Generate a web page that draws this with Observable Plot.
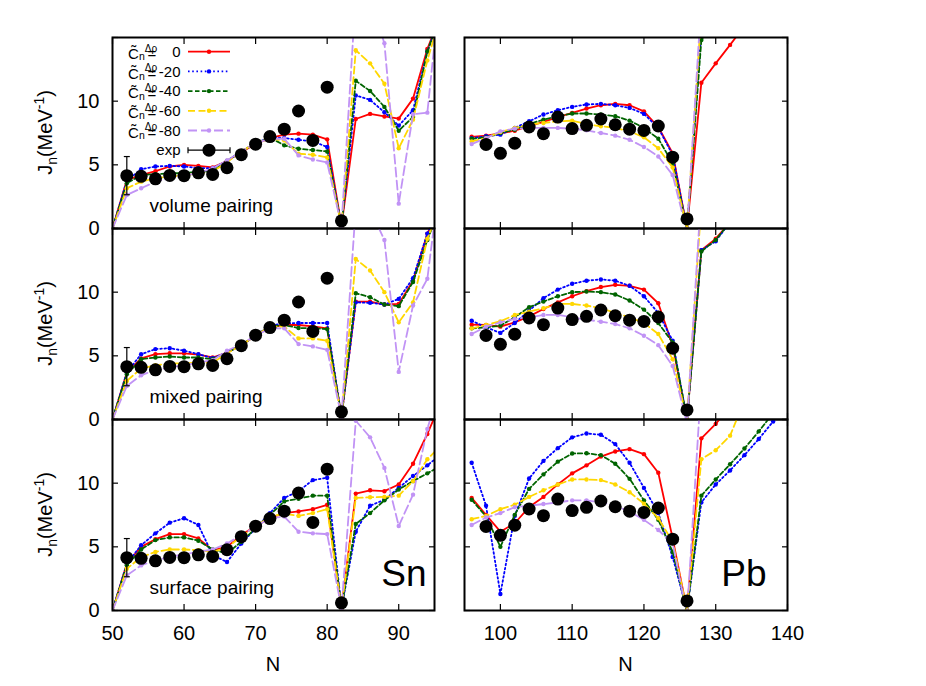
<!DOCTYPE html>
<html><head><meta charset="utf-8">
<script src="https://cdn.jsdelivr.net/npm/d3@7"></script>
<script src="https://cdn.jsdelivr.net/npm/@observablehq/plot@0.6"></script>
<style>
body{margin:0;background:#fff;}
#chart{position:relative;width:926px;height:686px;background:#fff;font-family:"Liberation Sans",Arial,sans-serif;}
#chart svg{position:absolute;left:0;top:0;}
</style></head><body><div id="chart"></div>
<script>
// ---------- data ----------
const seriesLabels = ["0", "-20", "-40", "-60", "-80"];
const pairingLabels = ["volume pairing", "mixed pairing", "surface pairing"];
const elementLabels = ["Sn", "Pb"];
const snTicks = [50, 60, 70, 80, 90];
const pbTicks = [100, 110, 120, 130, 140];
const yTicks = [0, 5, 10, 15];
const yTickLabels = [0, 5, 10];

const snN = [50,52,54,56,58,60,62,64,66,68,70,72,74,76,78,80,82,84,86,88,90,92,94,96];
const pbN = [96,98,100,102,104,106,108,110,112,114,116,118,120,122,124,126,128,130,132,134,136,138,140];

const snExpN = [52,54,56,58,60,62,64,66,68,70,72,74,76,78,80,82];
const snExpJ = [4.15,4.1,3.9,4.17,4.15,4.37,4.25,4.77,5.8,6.62,7.22,7.8,9.23,6.92,11.1,0.6];
const snErrN = [52];
const snErrLo = [2.65];
const snErrHi = [5.65];
const pbExpN = [98,100,102,104,106,108,110,112,114,116,118,120,122,124,126];
const pbExpJ = [6.6,5.9,6.7,7.97,7.45,8.75,7.85,8.1,8.6,8.15,7.8,7.7,8.05,5.6,0.75];

// Sn, volume pairing
const snVol0   = [0,3.8,4.2,4.5,4.87,5.0,4.92,4.8,5.3,6.0,6.65,7.1,7.37,7.45,7.37,7.0,0.2,8.6,9.0,8.8,8.63,10.2,14.1,17];
const snVol20  = [0,3.75,4.66,4.87,4.92,4.87,4.74,4.74,5.3,6.05,6.7,7.16,7.1,6.97,6.84,6.4,0.2,10.45,10.1,9.13,8.08,9.29,13.9,17];
const snVol40  = [0,3.55,4.2,4.26,4.34,4.34,4.47,4.5,5.3,6.05,6.7,7.15,6.53,6.26,6.16,6.05,0.2,11.6,10.8,9.55,7.68,8.76,13.9,17];
const snVol60  = [0,3.16,3.68,3.95,4.08,4.16,4.34,4.47,5.2,6.05,6.7,7.05,6.92,5.87,5.79,5.58,0.2,14.0,12.97,11.37,6.3,8.55,13.2,17];
const snVol80  = [0,2.63,3.16,3.68,3.95,4.16,4.34,4.74,5.34,6.05,6.7,7.05,7.05,5.74,5.42,5.18,0.2,18.4,18,14.55,1.95,8.97,9.1,20];
// Sn, mixed pairing
const snMix0   = [0,3.7,4.8,5.13,5.2,5.2,5.1,4.87,5.26,5.84,6.58,7.24,7.42,7.42,7.32,7.16,0.2,9.26,9.26,9.03,9.08,10.9,14.6,17];
const snMix20  = [0,3.7,5.13,5.53,5.6,5.4,5.13,4.82,5.26,5.84,6.58,7.37,7.55,7.58,7.58,7.58,0.2,9.2,9.16,9.03,9.47,11.1,14.6,17];
const snMix40  = [0,3.55,4.74,4.87,4.95,4.87,4.87,4.74,5.26,5.84,6.58,7.3,7.42,7.18,7.18,7.1,0.2,9.92,9.6,9.03,8.9,10.8,14.1,17];
const snMix60  = [0,3.03,4.0,4.26,4.4,4.4,4.47,4.47,5.2,5.84,6.58,7.3,7.29,6.37,6.37,6.18,0.2,12.6,11.7,10.0,7.63,9.2,14.2,17];
const snMix80  = [0,2.63,3.47,3.9,4.08,4.26,4.47,4.66,5.4,5.92,6.58,7.16,7.16,5.92,5.74,5.47,0.2,16.7,16.5,14.1,3.74,8.95,11.05,20];
// Sn, surface pairing
const snSurf0  = [0,3.68,5.0,5.6,6.0,6.0,5.66,4.74,5.0,5.92,6.64,7.25,7.65,7.78,7.96,8.3,0.2,9.18,9.44,9.37,9.9,11.53,13.86,16.5];
const snSurf20 = [0,3.68,5.13,6.06,6.9,7.25,6.72,4.34,3.81,5.26,6.45,7.65,8.84,9.37,10.24,10.42,0.2,6.19,8.23,8.7,9.63,10.56,11.4,12.3];
const snSurf40 = [0,3.55,4.79,5.53,5.74,5.74,5.48,4.79,4.47,5.4,6.45,7.51,8.57,8.78,9.02,9.02,0.2,6.8,7.65,8.65,9.5,10.16,10.77,11.4];
const snSurf60 = [0,3.28,4.2,4.6,4.79,4.79,4.74,4.6,4.95,5.8,6.59,7.38,7.6,7.43,7.65,7.96,0.2,8.84,8.89,8.92,9.02,10.16,11.88,13.0];
const snSurf80 = [0,2.75,3.54,3.94,4.21,4.42,4.6,4.79,5.26,5.92,6.59,7.25,7.38,6.19,6.06,6.0,0.2,14.9,13.6,11.2,6.64,9.1,14.26,18];
// Pb, volume pairing
const pbVol0   = [7.2,7.29,7.47,7.68,8.03,8.37,8.74,9.08,9.42,9.68,9.79,9.68,9.2,7.97,5.92,0,11.45,12.97,14.42,15.9];
const pbVol20  = [7.1,7.24,7.37,7.9,8.42,8.95,9.29,9.55,9.74,9.79,9.68,9.47,9.0,7.9,5.79,0,15.5,18];
const pbVol40  = [7.05,7.16,7.5,7.76,8.2,8.55,8.82,9.03,9.03,8.95,8.82,8.47,7.9,7.05,5.13,0,14.8,16.5];
const pbVol60  = [6.84,7.1,7.58,7.9,8.16,8.29,8.42,8.47,8.2,8.03,7.9,7.63,7.16,6.3,4.79,0,17,19];
const pbVol80  = [6.63,7.1,7.63,7.84,7.9,7.9,7.9,7.84,7.71,7.5,7.29,6.97,6.4,5.66,4.2,-0.3,18,20];
// Pb, mixed pairing
const pbMix0   = [7.45,7.42,7.29,7.63,8.1,8.68,9.2,9.68,10.08,10.4,10.58,10.5,10.2,9.13,5.8,0,13.3,14.2,15.5];
const pbMix20  = [7.76,7.24,6.8,7.58,8.55,9.53,10.2,10.66,10.9,11.0,10.9,10.5,9.68,8.37,6.18,0,13.3,14.0,15.5];
const pbMix40  = [7.16,7.24,7.37,8.03,8.82,9.26,9.68,10.0,10.05,10.0,9.82,9.34,8.63,7.58,6.05,0,13.2,14.1,15.5];
const pbMix60  = [7.16,7.42,7.71,8.21,8.47,8.74,9.08,9.08,8.95,8.74,8.37,8.03,7.58,6.71,4.74,0,17,19];
const pbMix80  = [6.71,7.29,7.63,7.9,8.03,8.21,8.21,8.03,7.84,7.68,7.5,7.16,6.58,5.84,4.21,-0.3,18,20];
// Pb, surface pairing
const pbSurf0  = [8.84,7.51,6.19,6.85,8.12,8.92,9.9,10.77,11.4,12.09,12.49,12.67,12.28,10.82,5.66,0,13.52,14.66,16];
const pbSurf20 = [11.6,8.23,1.3,7.43,10.37,11.75,12.75,13.6,13.9,13.8,13.07,11.6,9.63,7.65,4.2,0,8.49,9.9,11.0,12.2,13.47,14.84,16];
const pbSurf40 = [8.7,7.38,5.0,7.51,9.55,10.69,11.69,12.33,12.35,12.2,11.53,10.34,8.65,7.12,4.6,0,9.02,10.29,11.48,12.72,14.07,15.5];
const pbSurf60 = [7.17,7.43,7.96,8.31,8.92,9.44,9.9,10.29,10.29,10.24,9.9,9.29,8.39,7.25,5.4,0,11.88,12.59,13.73,16.5];
const pbSurf80 = [6.72,7.3,7.65,8.12,8.23,8.36,8.49,8.65,8.65,8.49,8.23,7.78,7.12,6.32,5.26,-0.3,18,20];

// ---------- styles ----------
const colors = ["#ff0000", "#0000ff", "#006400", "#ffd700", "#c193f5"];
const dashes = [null, "1.6 2.6", "4.5 2.5", "7 3.5", "9 4"];
const W = 926, H = 686;
const cols = [
  {left: 112, right: 434, domain: [50, 95], ticks: snTicks, N: snN, expN: snExpN, expJ: snExpJ, err: true, elem: elementLabels[0], elemDx: -8},
  {left: 464, right: 787, domain: [95, 140], ticks: pbTicks, N: pbN, expN: pbExpN, expJ: pbExpJ, err: false, elem: elementLabels[1], elemDx: -21}
];
const rowsF = [{top: 37, bottom: 228}, {top: 228, bottom: 419}, {top: 419, bottom: 610}];
const panelSeries = [
  [[snVol0, snVol20, snVol40, snVol60, snVol80], [pbVol0, pbVol20, pbVol40, pbVol60, pbVol80]],
  [[snMix0, snMix20, snMix40, snMix60, snMix80], [pbMix0, pbMix20, pbMix40, pbMix60, pbMix80]],
  [[snSurf0, snSurf20, snSurf40, snSurf60, snSurf80], [pbSurf0, pbSurf20, pbSurf40, pbSurf60, pbSurf80]]
];

const capSymbol = {draw(ctx) { ctx.moveTo(-3, 0); ctx.lineTo(3, 0); }};
const chart = document.getElementById("chart");

rowsF.forEach((rf, ri) => {
  cols.forEach((cf, ci) => {
    const marks = [];
    panelSeries[ri][ci].forEach((arr, k) => {
      const d = arr.map((v, i) => ({N: cf.N[i], J: v}));
      marks.push(Plot.line(d, {x: "N", y: "J", stroke: colors[k], strokeWidth: 1.8, strokeDasharray: dashes[k], clip: true}));
      marks.push(Plot.dot(d, {x: "N", y: "J", fill: colors[k], r: 2.2, clip: true}));
    });
    if (cf.err) {
      const e = snErrN.map((n, i) => ({N: n, lo: snErrLo[i], hi: snErrHi[i]}));
      marks.push(Plot.ruleX(e, {x: "N", y1: "lo", y2: "hi", stroke: "black", strokeWidth: 1.2}));
      marks.push(Plot.dot(e, {x: "N", y: "lo", symbol: capSymbol, stroke: "black", fill: "none", strokeWidth: 1.2}));
      marks.push(Plot.dot(e, {x: "N", y: "hi", symbol: capSymbol, stroke: "black", fill: "none", strokeWidth: 1.2}));
    }
    const ex = cf.expN.map((n, i) => ({N: n, J: cf.expJ[i]}));
    marks.push(Plot.dot(ex, {x: "N", y: "J", r: 6.5, fill: "black", clip: true}));
    // inward ticks on all four sides
    marks.push(Plot.axisX(cf.ticks, {anchor: "bottom", tickSize: 6, dy: -6, fill: "none", label: null, strokeWidth: 1.2}));
    marks.push(Plot.axisX(cf.ticks, {anchor: "top", tickSize: 6, dy: 6, fill: "none", label: null, strokeWidth: 1.2}));
    marks.push(Plot.axisY(yTicks, {anchor: "left", tickSize: 6, dx: 6, fill: "none", label: null, strokeWidth: 1.2}));
    marks.push(Plot.axisY(yTicks, {anchor: "right", tickSize: 6, dx: -6, fill: "none", label: null, strokeWidth: 1.2}));
    if (ri === 2) marks.push(Plot.axisX(cf.ticks, {anchor: "bottom", tickSize: 0, tickPadding: 15, stroke: "none", label: null, fontSize: 20}));
    if (ci === 0) marks.push(Plot.axisY(yTickLabels, {anchor: "left", tickSize: 0, tickPadding: 13, stroke: "none", label: null, fontSize: 20}));
    if (ci === 0) marks.push(Plot.text([pairingLabels[ri]], {frameAnchor: "bottom-left", dx: 37, dy: -17, textAnchor: "start", lineAnchor: "bottom", fontSize: 19, fill: "black"}));
    if (ri === 2) marks.push(Plot.text([cf.elem], {frameAnchor: "bottom-right", dx: cf.elemDx, dy: -25, textAnchor: "end", lineAnchor: "bottom", fontSize: 37, fill: "black"}));
    marks.push(Plot.frame({stroke: "black", strokeWidth: 2}));
    const p = Plot.plot({
      width: W, height: H,
      marginLeft: cf.left, marginRight: W - cf.right, marginTop: rf.top, marginBottom: H - rf.bottom,
      x: {domain: cf.domain},
      y: {domain: [0, 15]},
      style: {background: "transparent", fontFamily: "Liberation Sans, Arial, sans-serif", fontSize: "20px", color: "black", overflow: "visible"},
      marks
    });
    chart.appendChild(p);
  });
});

// ---------- overlay: legend and axis titles ----------
const svg = d3.select(chart).append("svg").attr("width", W).attr("height", H)
  .style("font-family", "Liberation Sans, Arial, sans-serif").style("overflow", "visible");

const legY0 = 51.7, legStep = 19.7;
seriesLabels.forEach((lab, k) => {
  const y = legY0 + k * legStep;
  const g = svg.append("g");
  // C with tilde, subscript n, superscript Δρ, "=" and the value
  const t = g.append("text").attr("font-size", 15);
  t.append("tspan").attr("x", 128).attr("y", y + 7.2).text("C\u0303");
  t.append("tspan").attr("x", 138.9).attr("y", y + 8.6).attr("font-size", 10.5).text("n");
  t.append("tspan").attr("x", 144.8).attr("y", y - 0.2).attr("font-size", 10).text("Δρ");
  t.append("tspan").attr("x", 147.6).attr("y", y + 7.4).text("=");
  t.append("tspan").attr("x", 180.5).attr("y", y + 5.2).attr("text-anchor", "end").text(lab);
  g.append("line").attr("x1", 188).attr("x2", 230).attr("y1", y).attr("y2", y)
    .attr("stroke", colors[k]).attr("stroke-width", 1.8).attr("stroke-dasharray", dashes[k]);
  g.append("circle").attr("cx", 209).attr("cy", y).attr("r", 2.2).attr("fill", colors[k]);
});
{
  const y = legY0 + 5 * legStep;
  svg.append("text").attr("x", 180.5).attr("y", y + 5).attr("font-size", 15).attr("text-anchor", "end").text("exp");
  svg.append("line").attr("x1", 188).attr("x2", 230).attr("y1", y).attr("y2", y).attr("stroke", "black").attr("stroke-width", 1.2);
  svg.append("line").attr("x1", 188).attr("x2", 188).attr("y1", y - 3).attr("y2", y + 3).attr("stroke", "black").attr("stroke-width", 1.2);
  svg.append("line").attr("x1", 230).attr("x2", 230).attr("y1", y - 3).attr("y2", y + 3).attr("stroke", "black").attr("stroke-width", 1.2);
  svg.append("circle").attr("cx", 209).attr("cy", y).attr("r", 6.5).attr("fill", "black");
}

rowsF.forEach(rf => {
  const cy = (rf.top + rf.bottom) / 2;
  const t = svg.append("text").attr("transform", `translate(52,${cy}) rotate(-90)`)
    .attr("text-anchor", "middle").attr("font-size", 20);
  t.append("tspan").text("J");
  t.append("tspan").attr("dy", 5).attr("font-size", 14).text("n");
  t.append("tspan").attr("dy", -5).text("(MeV");
  t.append("tspan").attr("dy", -8).attr("font-size", 14).text("-1");
  t.append("tspan").attr("dy", 8).text(")");
});
cols.forEach(cf => {
  svg.append("text").attr("x", (cf.left + cf.right) / 2).attr("y", 671).attr("font-size", 20)
    .attr("text-anchor", "middle").text("N");
});
</script></body></html>
